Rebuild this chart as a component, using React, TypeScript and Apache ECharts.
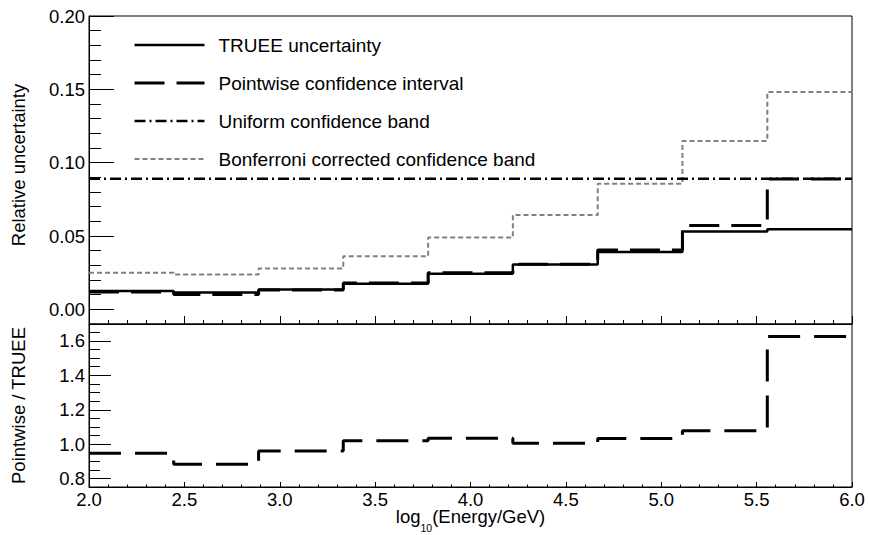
import React, { useEffect, useRef } from 'react';
import * as echarts from 'echarts';

// Bin edges of log10(Energy/GeV)
const binEdges = [2.0, 2.444, 2.889, 3.333, 3.778, 4.222, 4.667, 5.111, 5.556, 6.0];

// Top panel: relative uncertainties per bin
const trueeUncertainty = [0.0125, 0.0114, 0.0136, 0.0175, 0.0242, 0.0305, 0.0391, 0.053, 0.0546];
const pointwiseInterval = [0.0119, 0.0101, 0.0131, 0.0179, 0.0250, 0.0307, 0.0404, 0.0572, 0.0888];
const uniformBand = [0.089, 0.089, 0.089, 0.089, 0.089, 0.089, 0.089, 0.089, 0.089];
const bonferroniBand = [0.025, 0.0237, 0.0278, 0.0362, 0.0489, 0.0643, 0.0857, 0.1148, 0.1482];

// Bottom panel: Pointwise / TRUEE ratio
const pointwiseRatio = [0.948, 0.884, 0.961, 1.021, 1.035, 1.006, 1.033, 1.079, 1.626];

// Tick values
const topMajorTicks = [0, 0.05, 0.1, 0.15, 0.2];
const bottomMajorTicks = [0.8, 1.0, 1.2, 1.4, 1.6];
const bottomMinorTicks = [0.8, 0.85, 0.9, 0.95, 1.0, 1.05, 1.1, 1.15, 1.2, 1.25, 1.3, 1.35, 1.4, 1.45, 1.5, 1.55, 1.6, 1.65];

const names = [
  'TRUEE uncertainty',
  'Pointwise confidence interval',
  'Uniform confidence band',
  'Bonferroni corrected confidence band',
];

const styles: any[] = [
  { color: '#000', width: 2.5, type: 'solid' },
  { color: '#000', width: 3, type: [30, 12] },
  { color: '#000', width: 2.5, type: [11, 4, 2, 4] },
  { color: '#808080', width: 2, type: [5, 3] },
];

export default function App() {
  const ref = useRef<HTMLDivElement>(null);
  useEffect(() => {
    const chart = echarts.init(ref.current!, null, { renderer: 'svg' });
    const font = '"Liberation Sans", Arial, sans-serif';
    const fs = 18.5;
    const black = '#000';
    const steps = (vals: number[]) =>
      binEdges.map((e, i) => [e, vals[Math.min(i, vals.length - 1)]]);
    const stepLine = (name: string, vals: number[], lineStyle: any, gi: number, yi: number, z: number) => ({
      type: 'line',
      name,
      data: steps(vals),
      step: 'end',
      symbol: 'none',
      showSymbol: false,
      xAxisIndex: gi,
      yAxisIndex: yi,
      lineStyle,
      itemStyle: { color: lineStyle.color },
      silent: true,
      z,
    });
    const xBase = (gi: number, major: number, minor: number) => ({
      type: 'value',
      gridIndex: gi,
      min: 2,
      max: 6,
      interval: 0.5,
      axisLine: { show: true, onZero: false, lineStyle: { color: black, width: 1 } },
      axisTick: { show: true, inside: true, length: major, lineStyle: { color: black, width: 1 } },
      minorTick: { show: true, splitNumber: 5, length: minor, lineStyle: { color: black, width: 1 } },
      splitLine: { show: false },
      minorSplitLine: { show: false },
    });
    chart.setOption({
      animation: false,
      textStyle: { fontFamily: font, color: black },
      grid: [
        { left: 89, right: 17, top: 16, height: 308, show: true, borderColor: black, borderWidth: 1, backgroundColor: 'transparent', containLabel: false, outerBoundsMode: 'none' },
        { left: 89, right: 17, top: 324, height: 163, show: true, borderColor: black, borderWidth: 1, backgroundColor: 'transparent', containLabel: false, outerBoundsMode: 'none' },
      ],
      legend: {
        data: names.map((n, i) => ({
          name: n,
          lineStyle: { ...styles[i] },
          itemStyle: { opacity: 0, color: 'transparent', borderColor: 'transparent' },
        })),
        orient: 'vertical',
        left: 133,
        top: 35.5,
        padding: 0,
        itemWidth: 70,
        itemHeight: 18,
        itemGap: 19,
        selectedMode: false,
        itemStyle: { opacity: 0, color: 'transparent', borderColor: 'transparent' },
        textStyle: { fontSize: 19, color: black, fontFamily: font, lineHeight: 18, padding: [0, 0, 0, 9] },
      },
      xAxis: [
        { ...xBase(0, 8, 4), axisLabel: { show: false } },
        {
          ...xBase(1, 5, 2.5),
          axisLabel: { show: true, fontSize: fs, lineHeight: 14, color: black, fontFamily: font, margin: 5, formatter: (v: number) => v.toFixed(1) },
          name: '{a|log}{s|10}{a|(Energy/GeV)}',
          nameLocation: 'middle',
          nameGap: 20,
          nameMoveOverlap: false,
          nameTextStyle: {
            rich: {
              a: { fontSize: fs, color: black, fontFamily: font, lineHeight: 16, verticalAlign: 'top' },
              s: { fontSize: 10.5, color: black, fontFamily: font, lineHeight: 26, verticalAlign: 'bottom' },
            },
          },
        },
      ],
      yAxis: [
        {
          type: 'value',
          gridIndex: 0,
          min: -0.01,
          max: 0.2,
          position: 'left',
          axisLine: { show: true, onZero: false, lineStyle: { color: black } },
          axisTick: { show: true, inside: true, length: 25, customValues: topMajorTicks, lineStyle: { color: black } },
          axisLabel: { show: true, customValues: topMajorTicks, fontSize: fs, color: black, fontFamily: font, margin: 4, formatter: (v: number) => v.toFixed(2) },
          splitLine: { show: false },
          name: 'Relative uncertainty',
          nameLocation: 'middle',
          nameGap: 61,
          nameMoveOverlap: false,
          nameTextStyle: { fontSize: fs, color: black, fontFamily: font, padding: [0, 0, 0, 10] },
        },
        {
          type: 'value',
          gridIndex: 0,
          min: -0.01,
          max: 0.2,
          interval: 0.01,
          position: 'left',
          axisLine: { show: false, onZero: false },
          axisTick: { show: true, inside: true, length: 12, lineStyle: { color: black } },
          axisLabel: { show: false },
          splitLine: { show: false },
        },
        {
          type: 'value',
          gridIndex: 1,
          min: 0.752,
          max: 1.698,
          position: 'left',
          axisLine: { show: true, onZero: false, lineStyle: { color: black } },
          axisTick: { show: true, inside: true, length: 22, customValues: bottomMajorTicks, lineStyle: { color: black } },
          axisLabel: { show: true, customValues: bottomMajorTicks, fontSize: fs, color: black, fontFamily: font, margin: 4, formatter: (v: number) => v.toFixed(1) },
          splitLine: { show: false },
          name: 'Pointwise / TRUEE',
          nameLocation: 'middle',
          nameGap: 61,
          nameMoveOverlap: false,
          nameTextStyle: { fontSize: fs, color: black, fontFamily: font },
        },
        {
          type: 'value',
          gridIndex: 1,
          min: 0.752,
          max: 1.698,
          position: 'left',
          axisLine: { show: false, onZero: false },
          axisTick: { show: true, inside: true, length: 11, customValues: bottomMinorTicks, lineStyle: { color: black } },
          axisLabel: { show: false },
          splitLine: { show: false },
        },
      ],
      series: [
        stepLine(names[0], trueeUncertainty, styles[0], 0, 0, 3),
        stepLine(names[1], pointwiseInterval, styles[1], 0, 0, 4),
        stepLine(names[2], uniformBand, styles[2], 0, 0, 2),
        stepLine(names[3], bonferroniBand, styles[3], 0, 0, 1),
        stepLine('ratio', pointwiseRatio, { color: black, width: 3, type: [32, 14] }, 1, 2, 3),
      ],
    });
    return () => chart.dispose();
  }, []);
  return <div ref={ref} style={{ position: 'absolute', left: 0, top: 0, width: 869, height: 535, background: '#fff' }} />;
}
